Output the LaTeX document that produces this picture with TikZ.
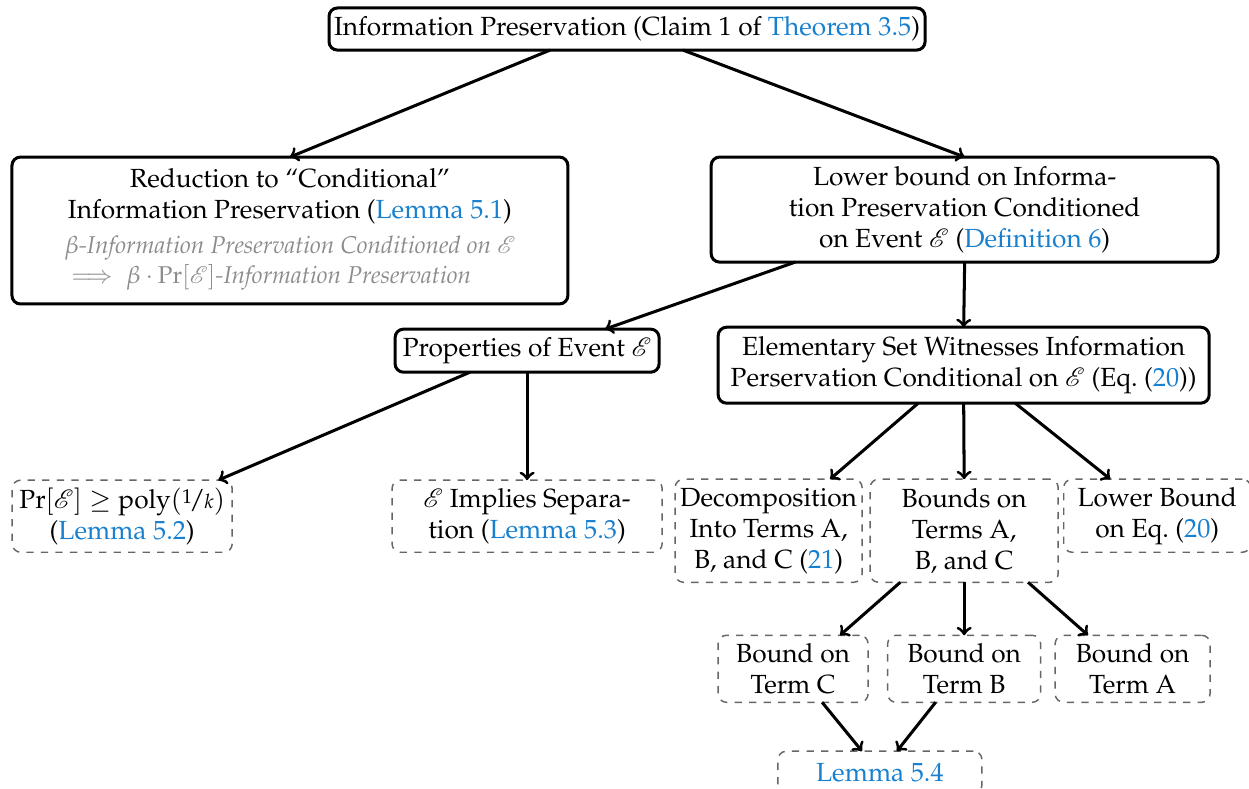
\documentclass[tikz,border=0pt]{standalone}
\usepackage[T1]{fontenc}
\usepackage{mathpazo}
\usepackage{amsmath}
\usepackage{mathrsfs}
\usepackage{nicefrac}
\usetikzlibrary{positioning}

\definecolor{refblue}{RGB}{24,128,206}
\definecolor{notegray}{gray}{0.55}
\newcommand{\lref}[1]{\textcolor{refblue}{#1}}
\newcommand{\Ev}{\mathscr{E}}
\newcommand{\boxfont}{\fontsize{10.85pt}{12.8pt}\selectfont}
\newcommand{\notefont}{\fontsize{10.05pt}{12.4pt}\selectfont\itshape\color{notegray}}

\tikzset{
  claim/.style={draw, rounded corners=3.5pt, line width=1.25pt, align=center,
                inner sep=2pt, outer sep=0pt, font=\boxfont},
  part/.style={draw=black!60, dashed, rounded corners=3.5pt, line width=0.6pt, align=center,
               inner sep=2pt, outer sep=0pt, font=\boxfont},
  dep/.style={->, line width=1.25pt},
}

\begin{document}
\begin{tikzpicture}

    \useasboundingbox (0,0) rectangle (516.1pt,-326.0pt);

    % Nodes

    \node[claim, minimum width=246.3pt, minimum height=17.4pt] (top) at (259.1pt,-12.0pt)
      {Information Preservation (Claim 1 of \lref{Theorem 3.5})}; %
    \node[claim, minimum width=229.7pt, minimum height=60.7pt,
          below=44.2pt of top, xshift=-139.3pt] (red)
      {Reduction to ``Conditional''\\
       Information Preservation (\lref{Lemma 5.1})\\[1.7pt]
       \notefont
       \begin{tabular}[t]{@{}l@{}}
       \notefont $\beta$-Information Preservation Conditioned on $\Ev$\\
       \notefont $\implies\beta\cdot\Pr[\Ev]$-Information Preservation
       \end{tabular}}; %
    \node[claim, minimum width=209.5pt, minimum height=43.4pt,
          below=44.2pt of top, xshift=139.5pt] (lb)
      {Lower bound on Informa-\\
       tion Preservation Conditioned\\
       on Event $\Ev$ (\lref{Definition 6})}; %

    % Second level
    \node[claim, minimum width=109.1pt, minimum height=17.8pt,
          below=27.7pt of lb, xshift=-180.8pt] (prop)
      {Properties of Event $\Ev$}; %
    \node[claim, minimum width=202.9pt, minimum height=31.4pt,
          below=26.9pt of lb, xshift=-0.4pt] (elem)
      {Elementary Set Witnesses Information\\
       Perservation Conditional on $\Ev$ (Eq.~(\lref{20}))}; %

    % Leaves of prop
    \node[part, minimum width=90.9pt, minimum height=29.8pt,
          below=44.6pt of prop, xshift=-167.3pt] (pr)
      {$\Pr[\Ev]\geq\mathrm{poly}(\nicefrac{1}{k})$\\
       (\lref{Lemma 5.2})}; %
    \node[part, minimum width=111.6pt, minimum height=29.8pt,
          below=44.6pt of prop] (sep)
      {$\Ev$ Implies Separa-\\
       tion (\lref{Lemma 5.3})}; %

    % Leaves of elem
    \node[part, minimum width=77.3pt, minimum height=42.6pt,
          below=31.4pt of elem, xshift=-80.6pt] (dec)
      {Decomposition\\
       Into Terms A,\\
       B, and C (\lref{21})}; %
    \node[part, minimum width=77.7pt, minimum height=42.6pt,
          below=31.4pt of elem, xshift=0.2pt] (bnd)
      {Bounds on\\
       Terms A,\\
       B, and C}; %
    \node[part, minimum width=77.3pt, minimum height=30.2pt,
          below=31.4pt of elem, xshift=80.0pt] (leq)
      {Lower Bound\\
       on Eq.~(\lref{20})}; %

    % Terms
    \node[part, minimum width=62.0pt, minimum height=27.7pt,
          below=21.9pt of bnd, xshift=-70.7pt] (bc)
      {Bound on\\ Term C}; %
    \node[part, minimum width=63.2pt, minimum height=27.7pt,
          below=21.9pt of bnd] (bb)
      {Bound on\\ Term B}; %
    \node[part, minimum width=64.0pt, minimum height=27.7pt,
          below=21.9pt of bnd, xshift=69.6pt] (ba)
      {Bound on\\ Term A}; %
    \node[part, minimum width=84.3pt, minimum height=17.4pt,
          below=20.2pt of bc, xshift=35.9pt] (lem)
      {\lref{Lemma 5.4}}; %

    % Edges
    \draw[dep] ([xshift=-31.8pt]top.south) -- (red.north); %
    \draw[dep] ([xshift=23.1pt]top.south)  -- (lb.north); %
    \draw[dep] ([xshift=-70.0pt]lb.south)  -- ([xshift=32.2pt]prop.north); %
    \draw[dep] (lb.south) -- (elem.north); %
    \draw[dep] ([xshift=-23.6pt]prop.south) -- ([xshift=39.7pt]pr.north); %
    \draw[dep] (prop.south) -- (sep.north); %
    \draw[dep] ([xshift=-18.8pt]elem.south) -- ([xshift=25.4pt]dec.north); %
    \draw[dep] (elem.south) -- (bnd.north); %
    \draw[dep] ([xshift=21.3pt]elem.south)  -- ([xshift=-19.4pt]leq.north); %
    \draw[dep] ([xshift=-26.4pt]bnd.south)  -- ([xshift=19.4pt]bc.north); %
    \draw[dep] (bnd.south) -- (bb.north); %
    \draw[dep] ([xshift=26.4pt]bnd.south)   -- ([xshift=-18.4pt]ba.north); %
    \draw[dep] ([xshift=12.0pt]bc.south)    -- ([xshift=-7.4pt]lem.north); %
    \draw[dep] ([xshift=-11.8pt]bb.south)   -- ([xshift=7.0pt]lem.north); %

\end{tikzpicture}
\end{document}
